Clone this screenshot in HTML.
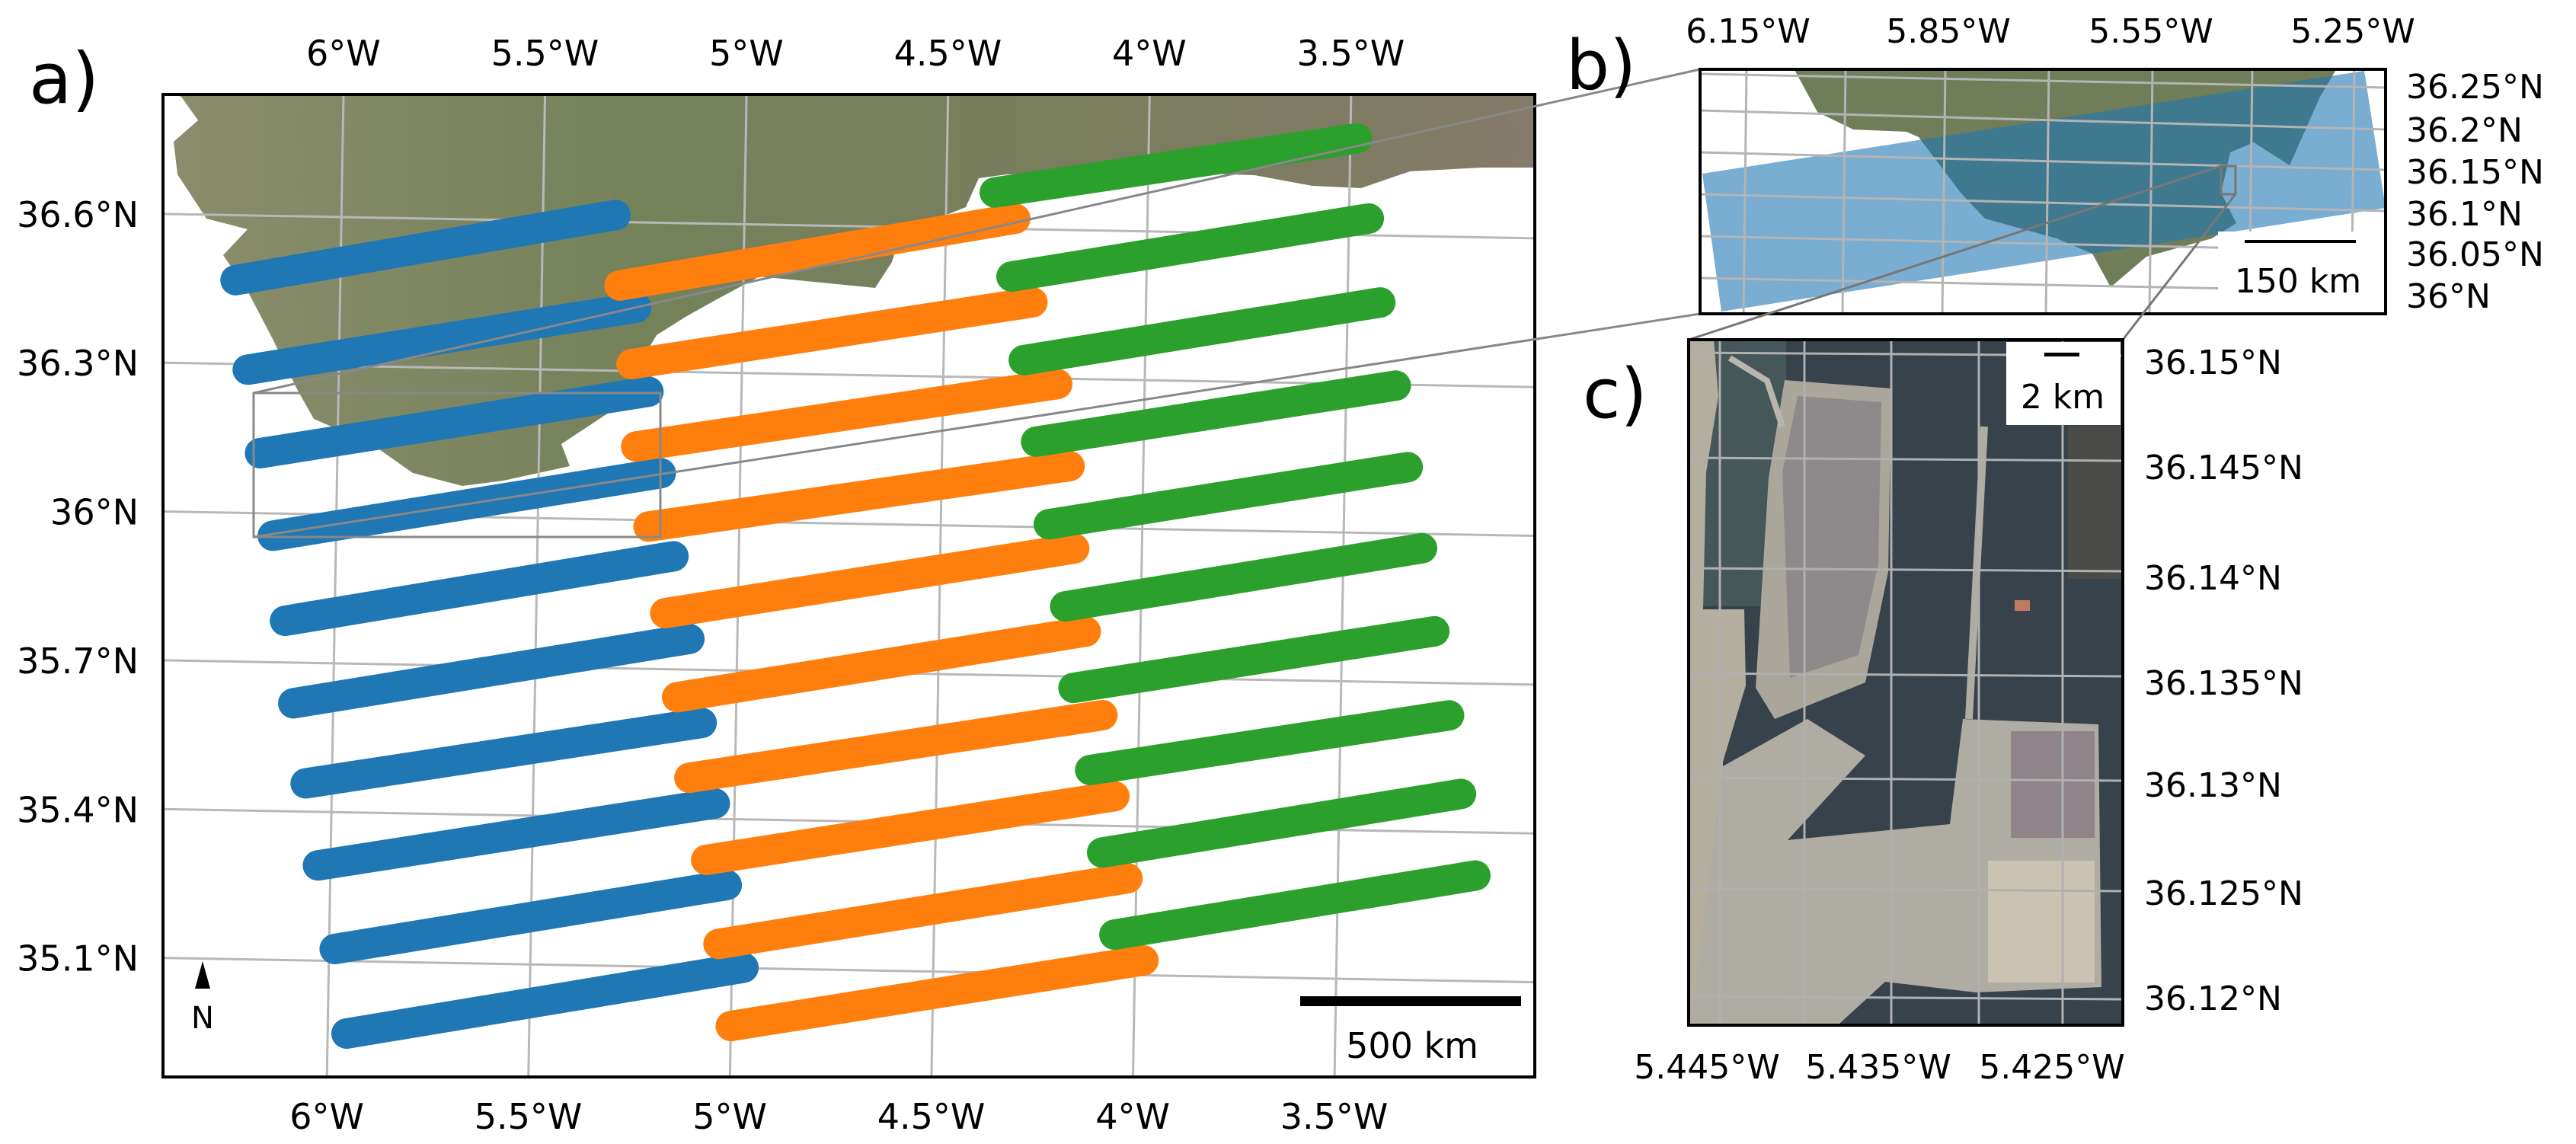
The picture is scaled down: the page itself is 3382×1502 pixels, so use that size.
<!DOCTYPE html>
<html><head><meta charset="utf-8"><style>
html,body{margin:0;padding:0;background:#fff;}
svg{display:block;}
text{font-family:"DejaVu Sans","Liberation Sans",sans-serif;fill:#000;}
</style></head><body>
<svg id="fig" xmlns="http://www.w3.org/2000/svg" width="3382" height="1502" viewBox="0 0 3382 1502">
<defs>
  <clipPath id="clipA"><rect x="214" y="124" width="1801" height="1290"/></clipPath>
  <clipPath id="clipB"><rect x="2232" y="91" width="900" height="321"/></clipPath>
  <clipPath id="clipC"><rect x="2217" y="446" width="570" height="900"/></clipPath>
  <linearGradient id="landGrad" x1="0" y1="0" x2="1" y2="0">
    <stop offset="0" stop-color="#8b8d6c"/>
    <stop offset="0.35" stop-color="#74825a"/>
    <stop offset="0.7" stop-color="#7a7d5e"/>
    <stop offset="1" stop-color="#847b68"/>
  </linearGradient>
</defs>

<!-- PANEL A -->
<g id="panelA">
  <text x="38" y="135" font-size="92">a)</text>
  <g clip-path="url(#clipA)">
    <polygon fill="url(#landGrad)"
      points="214,118 2015,118 2015,220 1946,220 1851,225 1787,247 1723,244 1647,230 1500,225 1322,229 1285,234 1268,272 1182,306 1171,344 1149,378 1068,370 997,363 943,392 900,416 862,440 802,540 737,583 748,612 661,631 607,638 542,621 488,583 412,550 390,511 358,445 325,382 293,335 325,301 271,287 233,229 228,186 260,158 238,127"/>
    <g id="gridA"></g>
    <g id="tracksA"></g>
    <rect x="333" y="516" width="534" height="189" fill="none" stroke="#888" stroke-width="3"/>
  </g>
  <rect x="214" y="124" width="1801" height="1290" fill="none" stroke="#000" stroke-width="4"/>
  <g id="ticksA"></g>
  <polygon points="266,1262 256,1298 276,1298" fill="#000"/>
  <text x="266" y="1350" font-size="40" text-anchor="middle">N</text>
  <rect x="1707" y="1308" width="290" height="13" fill="#000"/>
  <text x="1854" y="1389" font-size="46" text-anchor="middle">500 km</text>
</g>

<!-- connector lines a -> b -->
<line x1="333" y1="516" x2="2232" y2="91" stroke="#888" stroke-width="3"/>
<line x1="333" y1="705" x2="2232" y2="412" stroke="#888" stroke-width="3"/>

<!-- PANEL B -->
<g id="panelB">
  <text x="2056" y="117" font-size="90">b)</text>
  <g clip-path="url(#clipB)">
    <rect x="2232" y="91" width="900" height="321" fill="#fff"/>
    <polygon fill="#6f7d58"
      points="2354,88 2386,147 2433,170 2503,173 2519,180 2574,253 2606,287 2700,313 2747,333 2771,377 2818,337 2904,313 2936,293 2916,253 2928,200 2959,187 3006,217 3046,127 3069,88"/>
    <polygon fill="rgb(31,119,180)" fill-opacity="0.6"
      points="2235,228 3104,93 3132,273 2260,409"/>
    <g stroke="#b4b4b4" stroke-width="3">
      <line x1="2293" y1="91" x2="2289" y2="412"/><line x1="2423" y1="91" x2="2419" y2="412"/>
      <line x1="2554" y1="91" x2="2550" y2="412"/><line x1="2690" y1="91" x2="2686" y2="412"/>
      <line x1="2826" y1="91" x2="2822" y2="412"/><line x1="2957" y1="91" x2="2953" y2="412"/>
      <line x1="3091" y1="91" x2="3087" y2="412"/>
      <line x1="2232" y1="97" x2="3132" y2="115"/><line x1="2232" y1="145" x2="3132" y2="170"/>
      <line x1="2232" y1="200" x2="3132" y2="223"/><line x1="2232" y1="255" x2="3132" y2="277"/>
      <line x1="2232" y1="310" x2="3132" y2="330"/><line x1="2232" y1="365" x2="3132" y2="383"/>
    </g>
    <rect x="2912" y="304" width="220" height="108" fill="#fff"/>
    <rect x="2916" y="218" width="19" height="37" fill="none" stroke="#777" stroke-width="3"/>
  </g>
  <rect x="2232" y="91" width="900" height="321" fill="none" stroke="#000" stroke-width="4"/>
  <rect x="2947" y="315" width="146" height="4" fill="#000"/>
  <text x="3017" y="384" font-size="44" text-anchor="middle">150 km</text>
  <g font-size="44">
    <text x="2295" y="56" text-anchor="middle">6.15°W</text>
    <text x="2558" y="56" text-anchor="middle">5.85°W</text>
    <text x="2824" y="56" text-anchor="middle">5.55°W</text>
    <text x="3089" y="56" text-anchor="middle">5.25°W</text>
    <text x="3159" y="129">36.25°N</text>
    <text x="3159" y="186">36.2°N</text>
    <text x="3159" y="241">36.15°N</text>
    <text x="3159" y="296">36.1°N</text>
    <text x="3159" y="349">36.05°N</text>
    <text x="3159" y="404">36°N</text>
  </g>
</g>

<!-- connector lines b -> c -->
<line x1="2916" y1="218" x2="2217" y2="446" stroke="#777" stroke-width="3"/>
<line x1="2935" y1="255" x2="2787" y2="446" stroke="#777" stroke-width="3"/>

<!-- PANEL C -->
<g id="panelC">
  <text x="2078" y="548" font-size="90">c)</text>
  <g clip-path="url(#clipC)">
    <rect x="2217" y="446" width="570" height="900" fill="#37424b"/>
    <rect x="2235" y="446" width="110" height="350" fill="#46575a"/>
    <rect x="2715" y="560" width="72" height="200" fill="#4a4a48"/>
    <polygon fill="#b3ae9f" points="2217,446 2250,446 2256,520 2240,620 2236,800 2290,800 2292,900 2262,1000 2262,1344 2217,1344"/>
    <polygon fill="#aaa69c" points="2343,499 2483,510 2479,751 2449,896 2330,944 2305,903 2322,627"/>
    <polygon fill="#8e8a8c" points="2360,520 2470,528 2466,740 2440,860 2350,890 2340,620"/>
    <polygon fill="#aeaca3" points="2262,1006 2373,944 2449,992 2347,1103 2560,1082 2577,944 2755,951 2759,1296 2594,1303 2475,1289 2415,1344 2220,1344"/>
    <rect x="2640" y="960" width="110" height="140" fill="#8e848a"/>
    <rect x="2610" y="1130" width="140" height="160" fill="#cbc3b2"/>
    <polyline points="2271,470 2320,500 2340,560" fill="none" stroke="#b8b6ae" stroke-width="8"/>
    <line x1="2605" y1="560" x2="2585" y2="944" stroke="#aeaca3" stroke-width="10"/>
    <rect x="2645" y="788" width="20" height="14" fill="#c07a62"/>
    <g stroke="#b0b0b0" stroke-width="3">
      <line x1="2258" y1="446" x2="2258" y2="1346"/><line x1="2369" y1="446" x2="2369" y2="1346"/>
      <line x1="2483" y1="446" x2="2483" y2="1346"/><line x1="2598" y1="446" x2="2598" y2="1346"/>
      <line x1="2708" y1="446" x2="2708" y2="1346"/>
      <line x1="2217" y1="463" x2="2787" y2="467"/><line x1="2217" y1="601" x2="2787" y2="605"/>
      <line x1="2217" y1="746" x2="2787" y2="750"/><line x1="2217" y1="884" x2="2787" y2="888"/>
      <line x1="2217" y1="1021" x2="2787" y2="1025"/><line x1="2217" y1="1166" x2="2787" y2="1170"/>
      <line x1="2217" y1="1308" x2="2787" y2="1312"/>
    </g>
    <rect x="2634" y="449" width="150" height="109" fill="#fff"/>
  </g>
  <rect x="2217" y="446" width="570" height="900" fill="none" stroke="#000" stroke-width="4"/>
  <rect x="2684" y="463" width="46" height="5" fill="#000"/>
  <text x="2708" y="536" font-size="44" text-anchor="middle">2 km</text>
  <g font-size="44">
    <text x="2815" y="491">36.15°N</text>
    <text x="2815" y="629">36.145°N</text>
    <text x="2815" y="774">36.14°N</text>
    <text x="2815" y="912">36.135°N</text>
    <text x="2815" y="1046">36.13°N</text>
    <text x="2815" y="1188">36.125°N</text>
    <text x="2815" y="1326">36.12°N</text>
    <text x="2241" y="1416" text-anchor="middle">5.445°W</text>
    <text x="2466" y="1416" text-anchor="middle">5.435°W</text>
    <text x="2694" y="1416" text-anchor="middle">5.425°W</text>
  </g>
</g>
</svg>
<script>
// ---- Panel a data: track endpoints (lon, lat) ----
const blueStartLon = [-6.260,-6.226,-6.192,-6.157,-6.123,-6.099,-6.065,-6.031,-5.986,-5.953];
const blueStartLat = [36.469,36.289,36.121,35.955,35.784,35.618,35.457,35.292,35.124,34.954];
const blueEndLon   = [-5.320,-5.265,-5.231,-5.197,-5.162,-5.119,-5.085,-5.049,-5.016,-4.971];
const blueEndLat   = [36.614,36.428,36.259,36.095,35.928,35.762,35.593,35.431,35.267,35.101];
const orangeStartLon = [-5.307,-5.274,-5.259,-5.225,-5.180,-5.147,-5.113,-5.068,-5.034,-5.000];
const orangeStartLat = [36.472,36.314,36.148,35.987,35.813,35.644,35.482,35.317,35.148,34.983];
const orangeEndLon   = [-4.328,-4.282,-4.217,-4.183,-4.168,-4.136,-4.091,-4.058,-4.022,-3.979];
const orangeEndLat   = [36.621,36.453,36.289,36.124,35.958,35.791,35.623,35.460,35.295,35.130];
const greenStartLon = [-4.380,-4.335,-4.301,-4.267,-4.232,-4.188,-4.164,-4.119,-4.086,-4.052];
const greenStartLat = [36.673,36.504,36.336,36.172,36.006,35.841,35.677,35.512,35.346,35.181];
const greenEndLon   = [-3.484,-3.451,-3.419,-3.377,-3.344,-3.305,-3.271,-3.231,-3.198,-3.159];
const greenEndLat   = [36.795,36.634,36.465,36.298,36.134,35.971,35.804,35.635,35.477,35.313];
const lonTicks = [-6,-5.5,-5,-4.5,-4,-3.5];
const lonTickLabels = ["6°W","5.5°W","5°W","4.5°W","4°W","3.5°W"];
const latTicks = [36.6,36.3,36.0,35.7,35.4,35.1];
const latTickLabels = ["36.6°N","36.3°N","36°N","35.7°N","35.4°N","35.1°N"];

const NS = "http://www.w3.org/2000/svg";
function px(lon, lat){ const u = lon + 6, v = 36.6 - lat; return 448.25 + 529*u - 11*v; }
function py(lon, lat){ const u = lon + 6, v = 36.6 - lat; return 285 + 651*v + 9.4*u; }
function lonAtX(x, lat){ const v = 36.6 - lat; return -6 + (x - 448.25 + 11*v)/529; }
function latAtY(y, lon){ const u = lon + 6; return 36.6 - (y - 285 - 9.4*u)/651; }

const grid = document.getElementById('gridA');
lonTicks.forEach(function(lon){
  const l = document.createElementNS(NS,'line');
  const la = latAtY(110, lon), lb = latAtY(1430, lon);
  l.setAttribute('x1', px(lon, la)); l.setAttribute('y1', py(lon, la));
  l.setAttribute('x2', px(lon, lb)); l.setAttribute('y2', py(lon, lb));
  l.setAttribute('stroke','#b8b8b8'); l.setAttribute('stroke-width','3');
  
  
  grid.appendChild(l);
});
latTicks.forEach(function(lat){
  const l = document.createElementNS(NS,'line');
  const a = lonAtX(200, lat), b = lonAtX(2030, lat);
  l.setAttribute('x1', px(a, lat)); l.setAttribute('y1', py(a, lat));
  l.setAttribute('x2', px(b, lat)); l.setAttribute('y2', py(b, lat));
  l.setAttribute('stroke','#b8b8b8'); l.setAttribute('stroke-width','3');
  
  
  grid.appendChild(l);
});

const tracks = document.getElementById('tracksA');
function drawSeries(sLon, sLat, eLon, eLat, color, name){
  for (let i = 0; i < sLon.length; i++){
    const l = document.createElementNS(NS,'line');
    l.setAttribute('x1', px(sLon[i], sLat[i])); l.setAttribute('y1', py(sLon[i], sLat[i]));
    l.setAttribute('x2', px(eLon[i], eLat[i])); l.setAttribute('y2', py(eLon[i], eLat[i]));
    l.setAttribute('stroke', color); l.setAttribute('stroke-width', '40');
    l.setAttribute('stroke-linecap', 'round');
    
    
    tracks.appendChild(l);
  }
}
drawSeries(blueStartLon, blueStartLat, blueEndLon, blueEndLat, '#1f77b4', 'blue');
drawSeries(orangeStartLon, orangeStartLat, orangeEndLon, orangeEndLat, '#ff7f0e', 'orange');
drawSeries(greenStartLon, greenStartLat, greenEndLon, greenEndLat, '#2ca02c', 'green');

const ticks = document.getElementById('ticksA');
lonTicks.forEach(function(lon, i){
  [[36.84, 86, 'top'], [34.86, 1482, 'bottom']].forEach(function(s){
    const t = document.createElementNS(NS,'text');
    t.setAttribute('x', px(lon, s[0])); t.setAttribute('y', s[1]);
    t.setAttribute('font-size','46'); t.setAttribute('text-anchor','middle');
    t.textContent = lonTickLabels[i];
    
    
    ticks.appendChild(t);
  });
});
latTicks.forEach(function(lat, i){
  const t = document.createElementNS(NS,'text');
  const lon = lonAtX(214, lat);
  t.setAttribute('x', 182); t.setAttribute('y', py(lon, lat) + 17);
  t.setAttribute('font-size','46'); t.setAttribute('text-anchor','end');
  t.textContent = latTickLabels[i];
  
  
  ticks.appendChild(t);
});
</script>
</body></html>
